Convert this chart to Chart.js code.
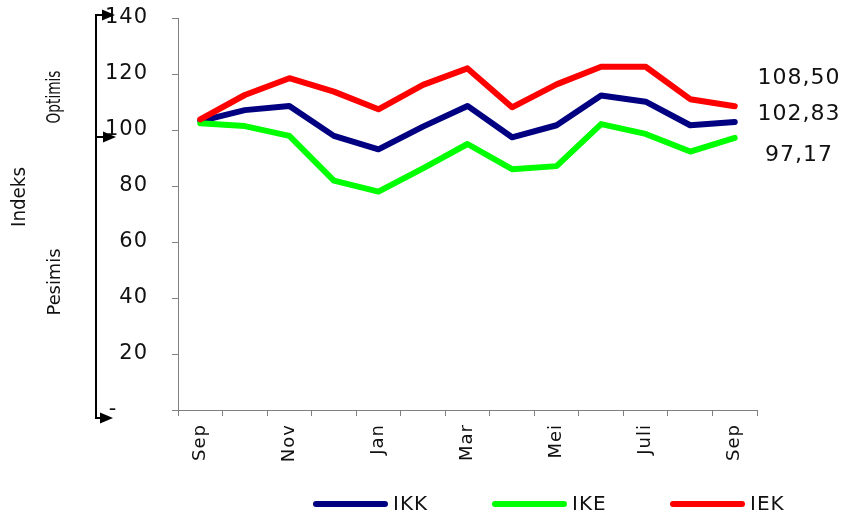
<!DOCTYPE html>
<html><head><meta charset="utf-8">
<script src="https://cdn.jsdelivr.net/npm/chart.js@4.4.1/dist/chart.umd.min.js"></script>
<style>html,body{margin:0;padding:0;background:#fff}#wrap{width:844px;height:517px;position:relative}</style>
</head><body><div id="wrap"><canvas id="c"></canvas></div>
<script>
const categories = ['Sep','Okt','Nov','Des','Jan','Feb','Mar','Apr','Mei','Jun','Juli','Agu','Sep'];
const shownTicks = ['Sep','','Nov','','Jan','','Mar','','Mei','','Juli','','Sep'];
const seriesNames = ['IKK','IKE','IEK'];
const ikk = [103.2,107.1,108.6,97.9,93.1,101.2,108.6,97.4,101.7,112.3,110.1,101.7,102.83];
const ike = [102.4,101.4,97.9,81.9,78.0,86.3,95.0,86.0,87.1,102.1,98.6,92.3,97.17];
const iek = [103.8,112.5,118.5,113.7,107.4,116.1,122.0,108.1,116.3,122.6,122.6,111.0,108.50];
const yTickLabels = {0:'-    ',20:'20',40:'40',60:'60',80:'80',100:'100',120:'120',140:'140'};
const endLabels = ['108,50','102,83','97,17'];
const sideLabels = ['Optimis','Indeks','Pesimis'];
const colors = ['#000080','#00ff00','#ff0000'];

const textColor = '#111';
const FONT = 'DejaVu Sans';
const LS = '1px';

const spacing = {
  id:'spacing',
  beforeLayout(chart){ chart.ctx.letterSpacing=LS; },
  beforeDraw(chart){ chart.ctx.letterSpacing=LS; }
};

const deco = {
  id:'deco',
  afterDraw(chart){
    const ctx = chart.ctx;
    ctx.save();
    ctx.letterSpacing='0px';
    ctx.strokeStyle='#000'; ctx.fillStyle='#000'; ctx.lineWidth=2;
    ctx.beginPath(); ctx.moveTo(96,14); ctx.lineTo(96,419); ctx.stroke();
    const arrow=(y,tip)=>{
      ctx.beginPath(); ctx.moveTo(96,y); ctx.lineTo(tip-8,y); ctx.stroke();
      ctx.beginPath(); ctx.moveTo(tip,y); ctx.lineTo(tip-13,y-5.5); ctx.lineTo(tip-13,y+5.5); ctx.closePath(); ctx.fill();
    };
    arrow(15,115); arrow(137,116); arrow(418,113);
    const side=[[sideLabels[0],55,97,19,53],[sideLabels[1],20,197,19,60],[sideLabels[2],55,282,18,67]];
    ctx.fillStyle=textColor; ctx.textAlign='center'; ctx.textBaseline='middle';
    side.forEach(([t,x,y,fs,len])=>{
      ctx.save();
      ctx.font = fs+'px "'+FONT+'"';
      const w = ctx.measureText(t).width;
      ctx.translate(x,y); ctx.rotate(-Math.PI/2); ctx.scale(len/w,1);
      ctx.fillText(t,0,0);
      ctx.restore();
    });
    ctx.letterSpacing=LS;
    ctx.font='22px "'+FONT+'"';
    ctx.textAlign='center';
    const ey=[78,114,155];
    endLabels.forEach((t,i)=>ctx.fillText(t,799,ey[i]));
    const lx=[313,492,670];
    ctx.font='20px "'+FONT+'"';
    ctx.textAlign='left';
    ctx.lineCap='round'; ctx.lineWidth=6;
    seriesNames.forEach((n,i)=>{
      ctx.strokeStyle=colors[i];
      ctx.beginPath(); ctx.moveTo(lx[i]+3,504); ctx.lineTo(lx[i]+72,504); ctx.stroke();
      ctx.fillStyle=textColor;
      ctx.fillText(n,lx[i]+80,505);
    });
    ctx.restore();
  }
};

const ds=(label,data,i,order)=>({label,data,borderColor:colors[i],backgroundColor:colors[i],borderWidth:6,
  pointRadius:0,tension:0,borderCapStyle:'round',borderJoinStyle:'round',order});

new Chart(document.getElementById('c'),{
  type:'line',
  data:{labels:categories,datasets:[ds(seriesNames[0],ikk,0,2),ds(seriesNames[1],ike,1,1),ds(seriesNames[2],iek,2,0)]},
  options:{
    responsive:true,maintainAspectRatio:false,animation:false,
    layout:{padding:{left:0,top:18,right:87,bottom:0}},
    plugins:{legend:{display:false},tooltip:{enabled:false}},
    scales:{
      x:{
        offset:true,
        grid:{offset:true,drawOnChartArea:false,tickLength:6,color:'#808080'},
        border:{color:'#808080',width:1},
        ticks:{autoSkip:false,minRotation:90,maxRotation:90,padding:8,color:textColor,
          font:{family:FONT,size:18},callback:(v,i)=>shownTicks[i]},
        afterFit:(s)=>{s.height=107; s.paddingLeft=0; s.paddingRight=0;}
      },
      y:{
        min:0,max:140,
        grid:{drawOnChartArea:false,tickLength:6,color:'#808080'},
        border:{color:'#808080',width:1},
        ticks:{stepSize:20,padding:24,color:textColor,font:{family:FONT,size:21},
          callback:(v)=>yTickLabels[v]},
        afterFit:(s)=>{s.width=178; s.paddingTop=0; s.paddingBottom=0;}
      }
    }
  },
  plugins:[spacing,deco]
});
</script></body></html>
